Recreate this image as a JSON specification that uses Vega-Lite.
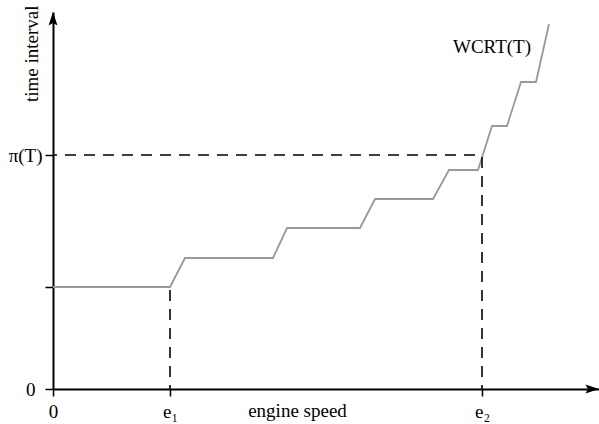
{
  "$schema": "https://vega.github.io/schema/vega-lite/v6.json",
  "width": 546,
  "height": 377,
  "autosize": {"type": "none"},
  "padding": {"left": 53, "top": 12, "right": 0, "bottom": 35},
  "background": "white",
  "config": {
    "view": {"stroke": null},
    "font": "Liberation Serif",
    "axis": {
      "grid": false,
      "domainColor": "black",
      "domainWidth": 2,
      "tickColor": "black",
      "tickWidth": 1.5,
      "labelColor": "black",
      "labelFontSize": 19,
      "labelFont": "Liberation Serif",
      "titleFont": "Liberation Serif",
      "titleFontSize": 19,
      "titleFontWeight": "normal",
      "titleColor": "black"
    }
  },
  "layer": [
    {
      "data": {
        "values": [
          {"i": 0, "x": 0, "y": 102},
          {"i": 1, "x": 117, "y": 102},
          {"i": 2, "x": 132, "y": 131},
          {"i": 3, "x": 220, "y": 131},
          {"i": 4, "x": 234, "y": 161},
          {"i": 5, "x": 307, "y": 161},
          {"i": 6, "x": 322, "y": 190},
          {"i": 7, "x": 380, "y": 190},
          {"i": 8, "x": 396, "y": 219},
          {"i": 9, "x": 425, "y": 219},
          {"i": 10, "x": 439, "y": 263},
          {"i": 11, "x": 454, "y": 263},
          {"i": 12, "x": 468, "y": 307},
          {"i": 13, "x": 483, "y": 307},
          {"i": 14, "x": 496, "y": 365}
        ]
      },
      "mark": {"type": "line", "color": "#999999", "strokeWidth": 1.8},
      "encoding": {
        "x": {
          "field": "x",
          "type": "quantitative",
          "scale": {"domain": [0, 546], "nice": false, "zero": false},
          "axis": {
            "values": [0, 117, 429],
            "labelExpr": "datum.value == 0 ? '0' : (datum.value == 117 ? 'e₁' : 'e₂')",
            "tickSize": 7,
            "labelBaseline": "alphabetic",
            "labelPadding": 21,
            "labelFlush": false,
            "labelOverlap": false,
            "title": "engine speed",
            "titleX": 244,
            "titleY": 27,
            "titleAlign": "center",
            "titleBaseline": "alphabetic"
          }
        },
        "y": {
          "field": "y",
          "type": "quantitative",
          "scale": {"domain": [0, 377], "nice": false, "zero": false},
          "axis": {
            "values": [0, 102, 234],
            "labelExpr": "datum.value == 0 ? '0' : (datum.value == 234 ? 'π(T)' : '')",
            "tickSize": 8,
            "labelPadding": {"expr": "datum.value == 0 ? 10 : 3"},
            "labelFlush": false,
            "labelOverlap": false,
            "title": "time interval",
            "titleAngle": -90,
            "titleX": -16,
            "titleY": -7,
            "titleAlign": "right",
            "titleBaseline": "alphabetic"
          }
        },
        "order": {"field": "i", "type": "quantitative"}
      }
    },
    {
      "data": {
        "values": [
          {"x": 0, "y": 234, "x2": 429, "y2": 234},
          {"x": 117, "y": 0, "x2": 117, "y2": 102},
          {"x": 429, "y": 0, "x2": 429, "y2": 234}
        ]
      },
      "mark": {"type": "rule", "color": "black", "strokeWidth": 1.6, "strokeDash": [11, 8], "strokeDashOffset": 7},
      "encoding": {
        "x": {"field": "x", "type": "quantitative"},
        "y": {"field": "y", "type": "quantitative"},
        "x2": {"field": "x2"},
        "y2": {"field": "y2"}
      }
    },
    {
      "data": {
        "values": [
          {"x": 546, "y": 0, "dir": "right"},
          {"x": 0, "y": 377, "dir": "up"}
        ]
      },
      "mark": {"type": "point", "filled": true, "color": "black", "opacity": 1, "size": 81, "strokeWidth": 0},
      "encoding": {
        "x": {"field": "x", "type": "quantitative"},
        "y": {"field": "y", "type": "quantitative"},
        "shape": {
          "field": "dir",
          "type": "nominal",
          "legend": null,
          "scale": {
            "domain": ["right", "up"],
            "range": ["M0,0 L-3,-1 L-2.45,0 L-3,1 Z", "M0,0 L1,3 L0,2.45 L-1,3 Z"]
          }
        }
      }
    },
    {
      "data": {"values": [{"x": 439, "y": 342, "label": "WCRT(T)"}]},
      "mark": {"type": "text", "fontSize": 19, "font": "Liberation Serif", "color": "black", "align": "center", "baseline": "middle"},
      "encoding": {
        "x": {"field": "x", "type": "quantitative"},
        "y": {"field": "y", "type": "quantitative"},
        "text": {"field": "label"}
      }
    }
  ]
}
